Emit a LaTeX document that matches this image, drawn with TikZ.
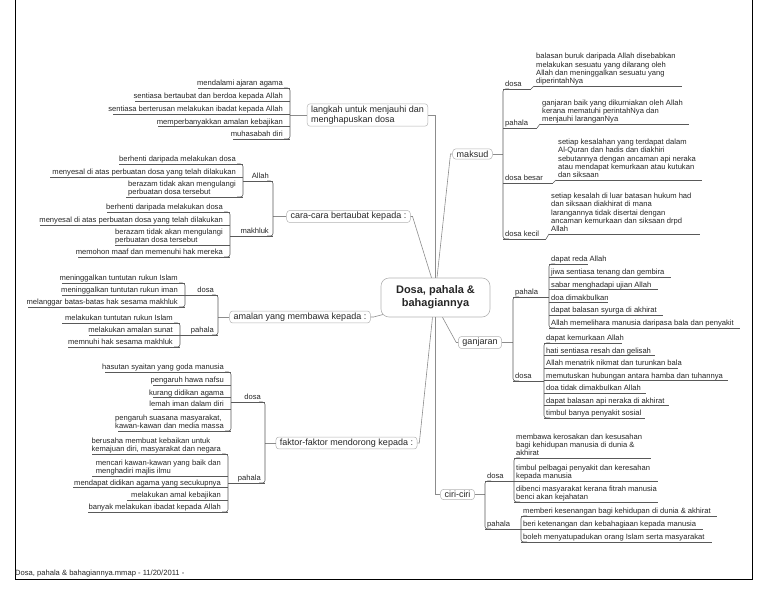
\documentclass[tikz,border=0pt]{standalone}
\usepackage{fontspec}
\setmainfont{Liberation Sans}
\usetikzlibrary{calc}
\tikzset{
 ln/.style={draw=black!45, line width=0.6pt},
 uline/.style={draw=black!65, line width=0.55pt},
 leaf/.style={inner xsep=2pt, inner ysep=0.6pt, text depth=1.6pt, font=\fontsize{7.6}{8.3}\selectfont, align=left, text=black!85},
 lab/.style={leaf},
 branch/.style={draw=black!30, line width=0.5pt, rounded corners=3pt, inner xsep=4pt, inner ysep=1.8pt, font=\fontsize{9}{10.5}\selectfont, align=left, text=black!85},
 central/.style={draw=black!30, line width=0.6pt, rounded corners=8pt, minimum width=109pt, minimum height=39pt, font=\fontsize{11}{13}\selectfont\bfseries, align=center, text=black!85},
}
% right leaf: name, bracket x, underline y, text, underline end x
\newcommand\mmRL[5]{\node[leaf,anchor=south west] (#1) at (#2,#3) {#4};\draw[uline] (#1.south west) -- (#5,#3);}
% left leaf: name, bracket x, underline y, text, underline start x
\newcommand\mmLL[5]{\node[leaf,anchor=south east] (#1) at ({#2-5},#3) {#4};\draw[uline] (#5,#3) -- (#2,#3);}
\newcommand\mmRB[3]{\draw[uline,rounded corners=2.5pt] ({#1+6},#2) -- (#1,#2) -- (#1,#3) -- ({#1+6},#3);}
\newcommand\mmLB[3]{\draw[uline,rounded corners=2.5pt] ({#1-6},#2) -- (#1,#2) -- (#1,#3) -- ({#1-6},#3);}
% right label: name, parent bracket x, y, underline end x, text
\newcommand\mmRLab[5]{\node[lab,anchor=south west] (#1) at (#2,#3) {#5};\draw[uline] (#2,#3) -- (#4,#3);}
% left label: name, parent bracket x, y, underline start x, text
\newcommand\mmLLab[5]{\node[lab,anchor=south east] (#1) at ({#2-2},#3) {#5};\draw[uline] (#4,#3) -- (#2,#3);}
\begin{document}
\begin{tikzpicture}[x=1pt,y=-1pt]
\useasboundingbox (0,0) rectangle (768,594);
% frame
\draw[black, line width=0.8pt] (15,0) -- (15,579) -- (752,579) -- (752,0);
\node[leaf, anchor=south west, inner xsep=0pt] (foot) at (15,578) {Dosa, pahala \& bahagiannya.mmap - 11/20/2011 -};

% central and main branches
\node[central] (c) at (435.5,297.5) {Dosa, pahala \&\\bahagiannya};
\node[branch] (langkah) at (367.5,115) {langkah untuk menjauhi dan\\menghapuskan dosa};
\node[branch] (cara) at (348.5,216.5) {cara-cara bertaubat kepada :};
\node[branch] (amalan) at (300,317) {amalan yang membawa kepada :};
\node[branch] (faktor) at (346.5,443) {faktor-faktor mendorong kepada :};
\node[branch] (maksud) at (472.5,154) {maksud};
\node[branch] (ganjaran) at (480,342.5) {ganjaran};
\node[branch] (ciri) at (457.5,494.5) {ciri-ciri};

\draw[ln] (langkah.east) -| (c.north);
\draw[ln] (cara.east) -- ++(2,0) -- ($(c.north)+(-4,0)$);
\draw[ln] ($(c.north)+(1.5,0)$) -- ($(maksud.west)+(-2,0)$) -- (maksud.west);
\draw[ln] (amalan.east) -- ++(3,0) -- (383,314.5);
\draw[ln] (faktor.east) -- ++(2,0) -- ($(c.south)+(-3,0)$);
\draw[ln] (c.south) |- (ciri.west);
\draw[ln] ($(c.south)+(7,0)$) -- ($(ganjaran.west)+(-2,0)$) -- (ganjaran.west);

% ---------- maksud ----------
\draw[ln] (maksud.east) -- (503,154);
\mmRB{503}{89}{239}
\mmRLab{mdosa}{503}{89}{531}{dosa}
\mmRL{md1}{534}{86}{balasan buruk daripada Allah disebabkan\\melakukan sesuatu yang dilarang oleh\\Allah dan meninggalkan sesuatu yang\\diperintahNya}{682}
\draw[uline] (531,89) -- (md1.south west);
\mmRLab{mpahala}{503}{128}{537}{pahala}
\mmRL{mp1}{540}{124}{ganjaran baik yang dikurniakan oleh Allah\\kerana mematuhi perintahNya dan\\menjauhi laranganNya}{689}
\draw[uline] (537,128) -- (mp1.south west);
\mmRLab{mbesar}{503}{183}{553}{dosa besar}
\mmRL{mb1}{556}{180}{setiap kesalahan yang terdapat dalam\\Al-Quran dan hadis dan diakhiri\\sebutannya dengan ancaman api neraka\\atau mendapat kemurkaan atau kutukan\\dan siksaan}{702}
\draw[uline] (553,183) -- (mb1.south west);
\mmRLab{mkecil}{503}{239}{546}{dosa kecil}
\mmRL{mk1}{549}{234}{setiap kesalah di luar batasan hukum had\\dan siksaan diakhirat di mana\\larangannya tidak disertai dengan\\ancaman kemurkaan dan siksaan drpd\\Allah}{700}
\draw[uline] (546,239) -- (mk1.south west);

% ---------- ganjaran ----------
\draw[ln] (ganjaran.east) -- (513,342.5);
\mmRB{513}{297}{381}
\mmRLab{gpahala}{513}{297}{549}{pahala}
\mmRB{549}{264}{328}
\mmRL{gp1}{549}{264}{dapat reda Allah}{588}
\mmRL{gp2}{549}{276.8}{jiwa sentiasa tenang dan gembira}{671}
\mmRL{gp3}{549}{289.6}{sabar menghadapi ujian Allah}{658}
\mmRL{gp4}{549}{302.4}{doa dimakbulkan}{608}
\mmRL{gp5}{549}{315.2}{dapat balasan syurga di akhirat}{663}
\mmRL{gp6}{549}{328}{Allah memelihara manusia daripasa bala dan penyakit}{740}
\mmRLab{gdosa}{513}{381}{544}{dosa}
\mmRB{544}{343}{418}
\mmRL{gd1}{544}{343}{dapat kemurkaan Allah}{622}
\mmRL{gd2}{544}{355.5}{hati sentiasa resah dan gelisah}{655}
\mmRL{gd3}{544}{368}{Allah menatrik nikmat dan turunkan bala}{678}
\mmRL{gd4}{544}{380.5}{memutuskan hubungan antara hamba dan tuhannya}{728}
\mmRL{gd5}{544}{393}{doa tidak dimakbulkan Allah}{646}
\mmRL{gd6}{544}{405.5}{dapat balasan api neraka di akhirat}{669}
\mmRL{gd7}{544}{418}{timbul banya penyakit sosial}{645}

% ---------- ciri-ciri ----------
\draw[ln] (ciri.east) -- (485,494.5);
\mmRB{485}{481}{529}
\mmRLab{cdosa}{485}{481}{514}{dosa}
\mmRB{514}{458}{502}
\mmRL{cd1}{514}{458}{membawa kerosakan dan kesusahan\\bagi kehidupan manusia di dunia \&\\akhirat}{651}
\mmRL{cd2}{514}{481}{timbul pelbagai penyakit dan keresahan\\kepada manusia}{658}
\mmRL{cd3}{514}{502}{dibenci masyarakat kerana fitrah manusia\\benci akan kejahatan}{658}
\mmRLab{cpahala}{485}{529}{521}{pahala}
\mmRB{521}{516}{542}
\mmRL{cp1}{521}{516}{memberi kesenangan bagi kehidupan di dunia \& akhirat}{717}
\mmRL{cp2}{521}{529}{beri ketenangan dan kebahagiaan kepada manusia}{703}
\mmRL{cp3}{521}{542}{boleh menyatupadukan orang Islam serta masyarakat}{712}

% ---------- langkah ----------
\draw[ln] (langkah.west) -- (290,115);
\mmLB{290}{88}{139}
\mmLL{l1}{290}{88}{mendalami ajaran agama}{198}
\mmLL{l2}{290}{101}{sentiasa bertaubat dan berdoa kepada Allah}{135}
\mmLL{l3}{290}{114}{sentiasa berterusan melakukan ibadat kepada Allah}{113}
\mmLL{l4}{290}{126.5}{memperbanyakkan amalan kebajikan}{158}
\mmLL{l5}{290}{139}{muhasabah diri}{233}

% ---------- cara-cara ----------
\draw[ln] (cara.west) -- (273,216.5);
\mmLB{273}{181}{236}
\mmLLab{callah}{273}{181}{243}{Allah}
\mmLB{243}{164}{197}
\mmLL{ca1}{243}{164}{berhenti daripada melakukan dosa}{119}
\mmLL{ca2}{243}{177}{menyesal di atas perbuatan dosa yang telah dilakukan}{50}
\mmLL{ca3}{243}{197}{berazam tidak akan mengulangi\\perbuatan dosa tersebut}{126}
\mmLLab{cmakh}{273}{236}{230}{makhluk}
\mmLB{230}{212}{257}
\mmLL{cm1}{230}{212}{berhenti daripada melakukan dosa}{107}
\mmLL{cm2}{230}{225}{menyesal di atas perbuatan dosa yang telah dilakukan}{40}
\mmLL{cm3}{230}{245}{berazam tidak akan mengulangi\\perbuatan dosa tersebut}{115}
\mmLL{cm4}{230}{257}{memohon maaf dan memenuhi hak mereka}{78}

% ---------- amalan ----------
\draw[ln] (amalan.west) -- (218,317);
\mmLB{218}{295}{335}
\mmLLab{adosa}{218}{295}{185}{dosa}
\mmLB{185}{283}{307}
\mmLL{ad1}{185}{283}{meninggalkan tuntutan rukun Islam}{62}
\mmLL{ad2}{185}{295}{meninggalkan tuntutan rukun iman}{62}
\mmLL{ad3}{185}{307}{melanggar batas-batas hak sesama makhluk}{28}
\mmLLab{apahala}{218}{335}{180}{pahala}
\mmLB{180}{323}{347}
\mmLL{ap1}{180}{323}{melakukan tuntutan rukun Islam}{62}
\mmLL{ap2}{180}{335}{melakukan amalan sunat}{89}
\mmLL{ap3}{180}{347}{memnuhi hak sesama makhluk}{68}

% ---------- faktor ----------
\draw[ln] (faktor.west) -- (265,443);
\mmLB{265}{402}{483}
\mmLLab{fdosa}{265}{402}{231}{dosa}
\mmLB{231}{372}{431}
\mmLL{fd1}{231}{372}{hasutan syaitan yang goda manusia}{105}
\mmLL{fd2}{231}{385}{pengaruh hawa nafsu}{153}
\mmLL{fd3}{231}{397.5}{kurang didikan agama}{153}
\mmLL{fd4}{231}{409}{lemah iman dalam diri}{153}
\mmLL{fd5}{231}{431}{pengaruh suasana masyarakat,\\kawan-kawan dan media massa}{118}
\mmLLab{fpahala}{265}{483}{228}{pahala}
\mmLB{228}{454}{512}
\mmLL{fp1}{228}{454}{berusaha membuat kebaikan untuk\\kemajuan diri, masyarakat dan negara}{92}
\mmLL{fp2}{228}{476}{mencari kawan-kawan yang baik dan\\menghadiri majlis ilmu}{92}
\mmLL{fp3}{228}{487.5}{mendapat didikan agama yang secukupnya}{73}
\mmLL{fp4}{228}{500}{melakukan amal kebajikan}{127}
\mmLL{fp5}{228}{512}{banyak melakukan ibadat kepada Allah}{88}
\end{tikzpicture}
\end{document}
